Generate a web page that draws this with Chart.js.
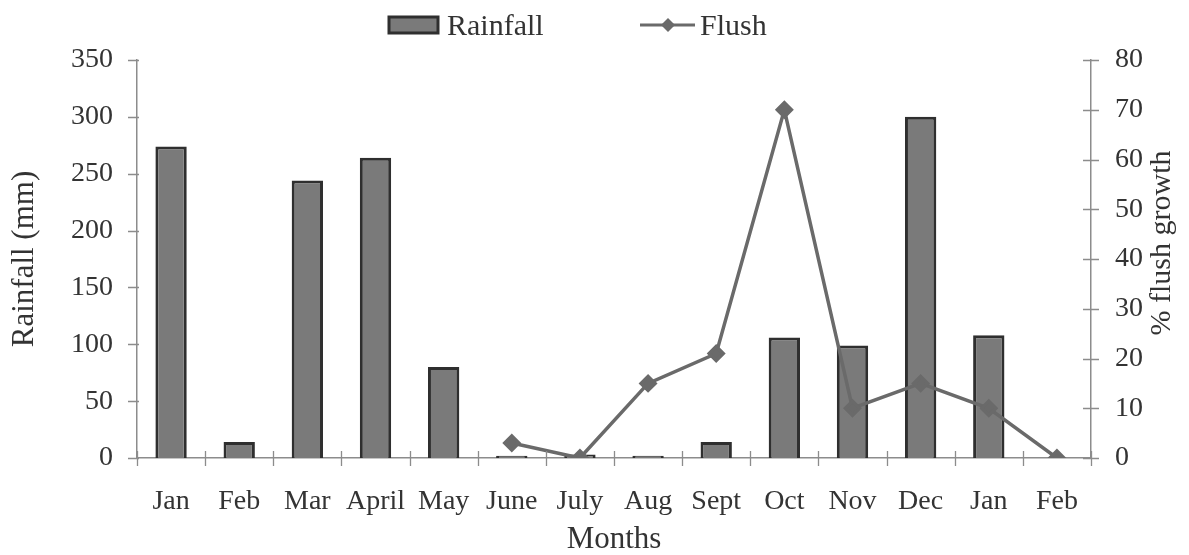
<!DOCTYPE html>
<html>
<head>
<meta charset="utf-8">
<script src="https://cdn.jsdelivr.net/npm/chart.js@4/dist/chart.umd.min.js"></script>
<style>
  html, body { margin: 0; padding: 0; background: #fff; }
  #wrap { width: 1189px; height: 555px; }
</style>
</head>
<body>
<div id="wrap"><canvas id="c" width="1189" height="555"></canvas></div>
<script>
// Monthly rainfall (mm) and % flush growth
const months = ['Jan', 'Feb', 'Mar', 'April', 'May', 'June', 'July', 'Aug', 'Sept', 'Oct', 'Nov', 'Dec', 'Jan', 'Feb'];
const rainfall = [274, 14, 244, 264, 80, 2, 3, 2, 14, 106, 99, 300, 108, null];
const flush = [null, null, null, null, null, 3, 0, 15, 21, 70, 10, 15, 10, 0];
const rainTicks = [0, 50, 100, 150, 200, 250, 300, 350];
const flushTicks = [0, 10, 20, 30, 40, 50, 60, 70, 80];
const leftTitle = 'Rainfall (mm)';
const rightTitle = '% flush growth';
const xTitle = 'Months';

const FONT = "'Liberation Serif', 'Times New Roman', serif";
const TEXT = '#333333';
const AXIS = '#8c8c8c';

// Short tick marks crossing the axis lines, plus the right-hand title and legend
const decorations = {
  id: 'decorations',
  afterDraw(chart) {
    const { ctx, chartArea: a, scales } = chart;
    ctx.save();
    ctx.strokeStyle = AXIS;
    ctx.lineWidth = 1.3;
    ctx.beginPath();
    scales.y.ticks.forEach(t => {
      const py = Math.round(scales.y.getPixelForValue(t.value)) + 0.5;
      ctx.moveTo(a.left - 9, py); ctx.lineTo(a.left + 2, py);
    });
    scales.y1.ticks.forEach(t => {
      const py = Math.round(scales.y1.getPixelForValue(t.value)) + 0.5;
      ctx.moveTo(a.right - 8, py); ctx.lineTo(a.right + 8, py);
    });
    const half = (scales.x.getPixelForValue(1) - scales.x.getPixelForValue(0)) / 2;
    for (let i = 0; i <= months.length; i++) {
      const px = Math.round(scales.x.getPixelForValue(i) - half) + 0.5;
      ctx.moveTo(px, a.bottom - 7); ctx.lineTo(px, a.bottom + 8);
    }
    ctx.stroke();

    // right axis title, reading upward
    ctx.fillStyle = TEXT;
    ctx.font = '30px ' + FONT;
    ctx.textAlign = 'center';
    ctx.textBaseline = 'middle';
    ctx.translate(1162, 243);
    ctx.rotate(-Math.PI / 2);
    ctx.fillText(rightTitle, 0, 0);
    ctx.restore();

    // legend
    const bar = chart.data.datasets[1];
    const line = chart.data.datasets[0];
    ctx.save();
    ctx.font = '30px ' + FONT;
    ctx.textAlign = 'left';
    ctx.textBaseline = 'alphabetic';
    ctx.fillStyle = bar.backgroundColor;
    ctx.strokeStyle = bar.borderColor;
    ctx.lineWidth = 3;
    ctx.fillRect(389, 17, 49, 16);
    ctx.strokeRect(389, 17, 49, 16);
    ctx.fillStyle = TEXT;
    ctx.fillText(bar.label, 447, 35);
    ctx.strokeStyle = line.borderColor;
    ctx.lineWidth = 3;
    ctx.beginPath(); ctx.moveTo(640, 25); ctx.lineTo(695, 25); ctx.stroke();
    ctx.fillStyle = line.pointBackgroundColor;
    ctx.beginPath();
    ctx.moveTo(668, 18); ctx.lineTo(675, 25); ctx.lineTo(668, 32); ctx.lineTo(661, 25);
    ctx.closePath(); ctx.fill();
    ctx.fillStyle = TEXT;
    ctx.fillText(line.label, 700, 35);
    ctx.restore();
  }
};

new Chart(document.getElementById('c'), {
  data: {
    labels: months,
    datasets: [
      {
        type: 'line',
        label: 'Flush',
        data: flush,
        yAxisID: 'y1',
        order: 0,
        borderColor: '#6a6a6a',
        borderWidth: 3.5,
        pointStyle: 'rectRot',
        pointRadius: 7,
        pointBackgroundColor: '#6a6a6a',
        pointBorderColor: '#6a6a6a',
        tension: 0,
        spanGaps: false
      },
      {
        type: 'bar',
        label: 'Rainfall',
        data: rainfall,
        yAxisID: 'y',
        order: 1,
        backgroundColor: '#7a7a7a',
        borderColor: '#2f2f2f',
        borderWidth: 3,
        categoryPercentage: 1,
        barPercentage: 0.46
      }
    ]
  },
  options: {
    responsive: false,
    animation: false,
    layout: { padding: { top: 60, left: 0, right: 0, bottom: 0 } },
    plugins: { legend: { display: false }, tooltip: { enabled: false } },
    scales: {
      x: {
        offset: true,
        grid: { display: false, drawTicks: false },
        border: { display: true, color: AXIS, width: 1.5 },
        ticks: { color: TEXT, font: { family: FONT, size: 28 }, padding: 27, maxRotation: 0, autoSkip: false },
        title: { display: true, text: xTitle, color: TEXT, font: { family: FONT, size: 31, lineHeight: 1 }, padding: { top: 0, bottom: 0 } },
        afterFit(s) { s.height = 97; }
      },
      y: {
        position: 'left',
        min: 0, max: 350,
        afterBuildTicks(s) { s.ticks = rainTicks.map(v => ({ value: v })); },
        grid: { display: false, drawTicks: false },
        border: { display: true, color: AXIS, width: 1.5 },
        ticks: { color: TEXT, font: { family: FONT, size: 28 }, padding: 24 },
        title: { display: true, text: leftTitle, color: TEXT, font: { family: FONT, size: 31 }, padding: { top: 6, bottom: 0 } },
        afterFit(s) { s.width = 137; }
      },
      y1: {
        position: 'right',
        min: 0, max: 80,
        afterBuildTicks(s) { s.ticks = flushTicks.map(v => ({ value: v })); },
        grid: { display: false, drawTicks: false },
        border: { display: true, color: AXIS, width: 1.5 },
        ticks: { color: TEXT, font: { family: FONT, size: 28 }, padding: 24 },
        afterFit(s) { s.width = 98; }
      }
    }
  },
  plugins: [decorations]
});
</script>
</body>
</html>
